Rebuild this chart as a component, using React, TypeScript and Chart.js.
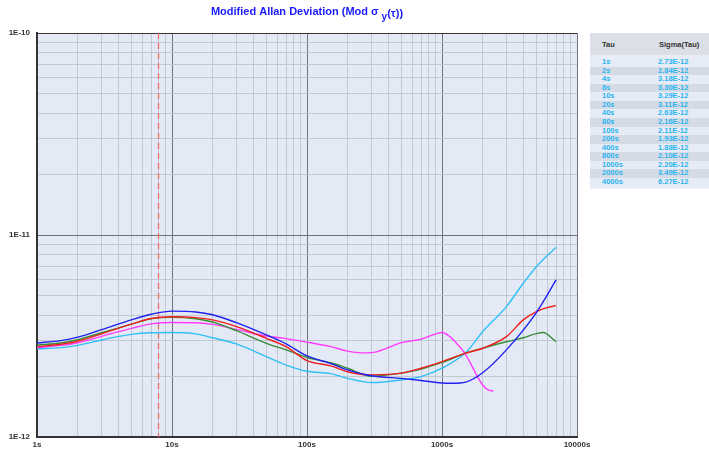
import React, { useEffect, useRef } from "react";
import { Chart, registerables } from "chart.js";

Chart.register(...registerables);

// ---- data (sigma values in units of 1e-12) ----
const TAU_BLUE = [1, 1.5, 2, 3, 5, 7, 10, 15, 20, 30, 50, 70, 100, 150, 200, 300, 500, 700, 1000, 1200, 1500, 2000, 3000, 5000, 7000];
const SIG_BLUE = [2.92, 3.0, 3.12, 3.4, 3.8, 4.05, 4.2, 4.16, 4.03, 3.68, 3.2, 2.89, 2.52, 2.31, 2.15, 2.01, 1.95, 1.905, 1.85, 1.845, 1.87, 2.08, 2.7, 4.13, 5.99];

const TAU_RED = [1, 1.5, 2, 3, 5, 7, 10, 15, 20, 30, 50, 70, 100, 150, 200, 300, 500, 700, 1000, 1500, 2000, 3000, 4000, 5000, 6000, 7000];
const SIG_RED = [2.8, 2.88, 2.98, 3.24, 3.62, 3.86, 3.94, 3.9, 3.8, 3.52, 3.08, 2.8, 2.39, 2.25, 2.105, 2.03, 2.07, 2.19, 2.36, 2.6, 2.75, 3.14, 3.8, 4.18, 4.37, 4.47];

const TAU_GREEN = [1, 1.5, 2, 3, 5, 7, 10, 15, 20, 30, 50, 70, 100, 150, 200, 300, 500, 700, 1000, 1500, 2000, 3000, 4000, 5000, 5600, 7000];
const SIG_GREEN = [2.85, 2.92, 3.03, 3.28, 3.62, 3.85, 3.91, 3.85, 3.71, 3.36, 2.91, 2.7, 2.475, 2.33, 2.19, 2.0, 2.07, 2.17, 2.34, 2.6, 2.75, 2.96, 3.1, 3.25, 3.29, 2.96];

const TAU_MAGENTA = [1, 1.5, 2, 3, 5, 7, 10, 15, 20, 30, 50, 70, 100, 150, 200, 250, 300, 400, 500, 700, 900, 1000, 1150, 1300, 1450, 1620, 1800, 2000, 2200, 2400];
const SIG_MAGENTA = [2.77, 2.84, 2.93, 3.15, 3.45, 3.63, 3.69, 3.68, 3.61, 3.41, 3.16, 3.07, 2.95, 2.8, 2.66, 2.61, 2.615, 2.77, 2.93, 3.05, 3.24, 3.29, 3.13, 2.88, 2.64, 2.33, 2.03, 1.81, 1.71, 1.69];

const TAU_CYAN = [1, 1.5, 2, 3, 5, 7, 10, 15, 20, 30, 50, 70, 100, 150, 200, 300, 500, 700, 1000, 1500, 2000, 3000, 4000, 5000, 7000];
const SIG_CYAN = [2.73, 2.77, 2.84, 3.02, 3.22, 3.28, 3.29, 3.24, 3.1, 2.89, 2.5, 2.27, 2.115, 2.06, 1.95, 1.86, 1.915, 1.99, 2.19, 2.62, 3.32, 4.42, 5.77, 6.97, 8.69];

const MARKER_TAU = 8;

const TABLE_TAU = ["1s", "2s", "4s", "8s", "10s", "20s", "40s", "80s", "100s", "200s", "400s", "800s", "1000s", "2000s", "4000s"];
const TABLE_SIGMA = ["2.73E-12", "2.84E-12", "3.18E-12", "3.30E-12", "3.29E-12", "3.11E-12", "2.63E-12", "2.16E-12", "2.11E-12", "1.93E-12", "1.88E-12", "2.10E-12", "2.20E-12", "3.49E-12", "6.27E-12"];

const X_DECADES = [0, 1, 2, 3];
const Y_DECADES = [-12, -11];

const toPoints = (t: number[], s: number[]) => t.map((x, i) => ({ x, y: s[i] * 1e-12 }));

const isDecade = (v: number) => {
  const l = Math.log10(v);
  return Math.abs(l - Math.round(l)) < 1e-6;
};

const FONT = '"Liberation Sans", Arial, sans-serif';

export default function App() {
  const ref = useRef<HTMLCanvasElement | null>(null);

  useEffect(() => {
    if (!ref.current) return;
    const bgPlugin = {
      id: "bg",
      beforeDraw(chart: any) {
        const { ctx, chartArea: a } = chart;
        ctx.save();
        ctx.fillStyle = "#e4eaf5";
        ctx.fillRect(a.left, a.top, a.right - a.left, a.bottom - a.top);
        ctx.restore();
      },
      beforeDatasetsDraw(chart: any) {
        const { ctx, chartArea: a } = chart;
        const x = chart.scales.x.getPixelForValue(MARKER_TAU);
        ctx.save();
        ctx.strokeStyle = "#f06a6a";
        ctx.lineWidth = 1.3;
        ctx.setLineDash([6, 4]);
        ctx.beginPath();
        ctx.moveTo(Math.round(x) - 0.5, a.top);
        ctx.lineTo(Math.round(x) - 0.5, a.bottom);
        ctx.stroke();
        ctx.restore();
      },
      afterDraw(chart: any) {
        const { ctx, chartArea: a } = chart;
        ctx.save();
        ctx.fillStyle = "#1a1aff";
        const big = "bold 11px " + FONT;
        const small = "bold 10px " + FONT;
        const p1 = "Modified Allan Deviation (Mod \u03c3 ";
        const p2 = "y";
        const p3 = "(\u03c4))";
        ctx.font = big;
        const w1 = ctx.measureText(p1).width;
        const w3 = ctx.measureText(p3).width;
        ctx.font = small;
        const w2 = ctx.measureText(p2).width;
        const total = w1 + w2 + w3;
        let x = (a.left + a.right) / 2 - total / 2;
        const y = 12;
        ctx.textBaseline = "middle";
        ctx.textAlign = "left";
        ctx.font = big;
        ctx.fillText(p1, x, y);
        x += w1;
        ctx.font = small;
        ctx.fillText(p2, x, y + 5);
        x += w2;
        ctx.font = big;
        ctx.fillText(p3, x, y + 2);
        ctx.restore();
      },
    };

    const ds = (label: string, t: number[], s: number[], color: string) => ({
      label,
      data: toPoints(t, s),
      borderColor: color,
      backgroundColor: color,
      borderWidth: 1.4,
      pointRadius: 0,
      cubicInterpolationMode: "monotone",
      fill: false,
    });

    const chart = new Chart(ref.current, {
      type: "line",
      data: {
        datasets: [
          ds("blue", TAU_BLUE, SIG_BLUE, "#2020f0"),
          ds("red", TAU_RED, SIG_RED, "#f02020"),
          ds("green", TAU_GREEN, SIG_GREEN, "#3a8c3a"),
          ds("magenta", TAU_MAGENTA, SIG_MAGENTA, "#ff3cff"),
          ds("cyan", TAU_CYAN, SIG_CYAN, "#30c0f5"),
        ] as any,
      },
      options: {
        animation: false,
        responsive: false,
        layout: { padding: { top: 33, right: 132, left: 0, bottom: 0 } },
        plugins: { legend: { display: false }, tooltip: { enabled: false }, title: { display: false } },
        scales: {
          x: {
            type: "logarithmic",
            min: 1,
            max: 10000,
            afterBuildTicks(scale: any) {
              const t: any[] = [];
              X_DECADES.forEach((d) => {
                for (let m = 1; m <= 9; m++) t.push({ value: m * Math.pow(10, d) });
              });
              t.push({ value: 10000 });
              scale.ticks = t;
            },
            afterFit(scale: any) {
              scale.height = 18;
            },
            ticks: {
              autoSkip: false,
              maxRotation: 0,
              padding: 3,
              color: "#333",
              font: { family: FONT, size: 8, weight: "bold" },
              callback: (v: any) => (isDecade(Number(v)) ? `${Math.round(Number(v))}s` : ""),
            },
            grid: {
              drawTicks: false,
              lineWidth: 1,
              color: (c: any) => (c.tick && isDecade(c.tick.value) ? "#6e737c" : "#c2c8d3"),
            },
            border: { display: true, color: "#333", width: 2 },
          },
          y: {
            type: "logarithmic",
            min: 1e-12,
            max: 1e-10,
            afterBuildTicks(scale: any) {
              const t: any[] = [];
              Y_DECADES.forEach((d) => {
                for (let m = 1; m <= 9; m++) t.push({ value: m * Math.pow(10, d) });
              });
              t.push({ value: 1e-10 });
              scale.ticks = t;
            },
            afterFit(scale: any) {
              scale.width = 37;
            },
            ticks: {
              autoSkip: false,
              padding: 7,
              color: "#333",
              font: { family: FONT, size: 8, weight: "bold" },
              callback: (v: any) => {
                const n = Number(v);
                if (!isDecade(n)) return "";
                return `1E${Math.round(Math.log10(n))}`;
              },
            },
            grid: {
              drawTicks: false,
              lineWidth: 1,
              color: (c: any) => {
                if (!c.tick) return "#c2c8d3";
                if (Math.abs(Math.log10(c.tick.value) + 10) < 1e-6) return "#333";
                return isDecade(c.tick.value) ? "#6e737c" : "#c2c8d3";
              },
            },
            border: { display: true, color: "#333", width: 2 },
          },
        },
      } as any,
      plugins: [bgPlugin],
    });
    return () => chart.destroy();
  }, []);

  const rowH = 8.57;
  return (
    <div style={{ position: "fixed", left: 0, top: 0, width: 709, height: 455, background: "#fff" }}>
      <canvas ref={ref} width={709} height={455} style={{ display: "block", width: 709, height: 455 }} />
      <div
        style={{
          position: "absolute",
          left: 590,
          top: 33,
          width: 119,
          height: 156,
          background: "#e9eef6",
          fontFamily: FONT,
          fontWeight: "bold",
          fontSize: 7.5,
        }}
      >
        <div style={{ position: "absolute", left: 0, top: 0, width: 119, height: 22, background: "#dadfe8", color: "#333" }}>
          <span style={{ position: "absolute", left: 12, top: 7, lineHeight: "9px" }}>Tau</span>
          <span style={{ position: "absolute", left: 69, top: 7, lineHeight: "9px" }}>Sigma(Tau)</span>
        </div>
        {TABLE_TAU.map((t, i) => (
          <div
            key={t}
            style={{
              position: "absolute",
              left: 0,
              top: 25 + i * rowH,
              width: 119,
              height: rowH,
              background: i % 2 === 0 ? "#e6ecf6" : "#d5dbe5",
              color: "#2ab4f0",
              lineHeight: `${rowH}px`,
            }}
          >
            <span style={{ position: "absolute", left: 12 }}>{t}</span>
            <span style={{ position: "absolute", left: 68 }}>{TABLE_SIGMA[i]}</span>
          </div>
        ))}
      </div>
    </div>
  );
}
